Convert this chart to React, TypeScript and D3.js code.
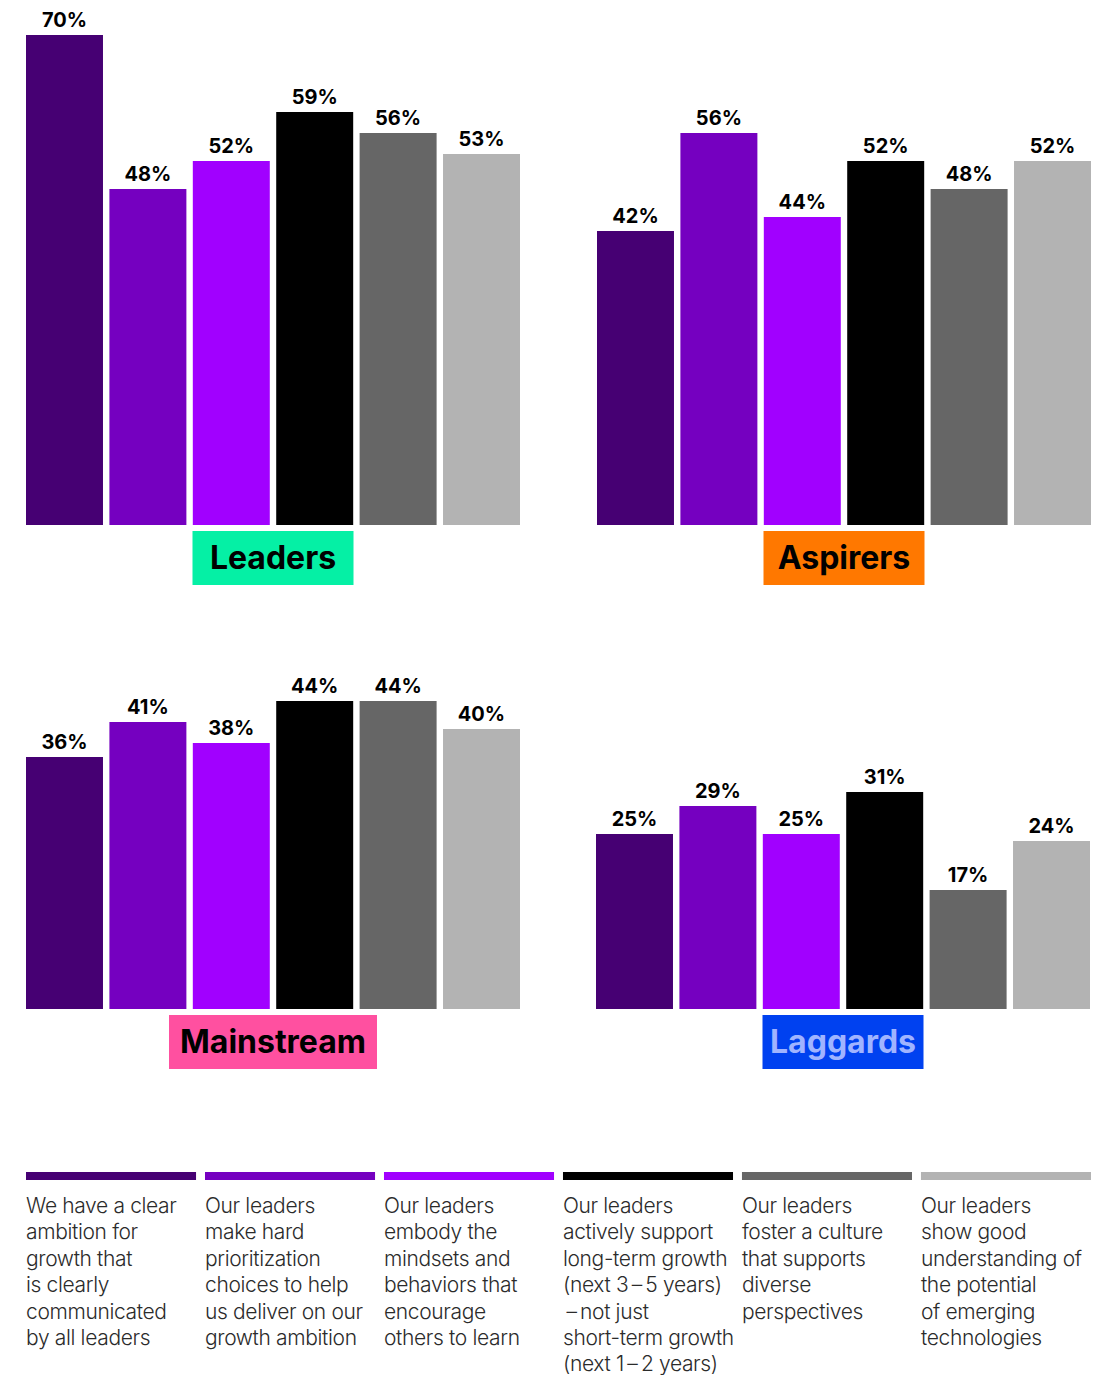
import * as d3 from "d3";
import React from "react";

const groups = ["Leaders", "Aspirers", "Mainstream", "Laggards"];
const leadersValues = [70, 48, 52, 59, 56, 53];
const aspirersValues = [42, 56, 44, 52, 48, 52];
const mainstreamValues = [36, 41, 38, 44, 44, 40];
const laggardsValues = [25, 29, 25, 31, 17, 24];
const seriesKeys = ["s1", "s2", "s3", "s4", "s5", "s6"];
const seriesColors = ["#460073", "#7500c0", "#a100ff", "#000000", "#666666", "#b3b3b3"];
const seriesLabels = [
  ["We have a clear", "ambition for", "growth that", "is clearly", "communicated", "by all leaders"],
  ["Our leaders", "make hard", "prioritization", "choices to help", "us deliver on our", "growth ambition"],
  ["Our leaders", "embody the", "mindsets and", "behaviors that", "encourage", "others to learn"],
  [
    "Our leaders",
    "actively support",
    "long-term growth",
    "(next 3\u2009\u2013\u20095 years)",
    "\u2009\u2013\u2009not just",
    "short-term growth",
    "(next 1\u2009\u2013\u20092 years)",
  ],
  ["Our leaders", "foster a culture", "that supports", "diverse", "perspectives"],
  ["Our leaders", "show good", "understanding of", "the potential", "of emerging", "technologies"],
];
const groupFill = ["#05f0a5", "#ff7800", "#ff50a0", "#0041f0"];
const groupText = ["#000000", "#000000", "#000000", "#a0b4ff"];

const W = 1097;
const H = 1375;
const font = "Inter, Roboto, 'Noto Sans', sans-serif";

const panels = [
  { values: leadersValues, x0: 26, x1: 520, base: 525, boxW: 161 },
  { values: aspirersValues, x0: 597, x1: 1091, base: 525, boxW: 161 },
  { values: mainstreamValues, x0: 26, x1: 520, base: 1009, boxW: 208 },
  { values: laggardsValues, x0: 596, x1: 1090, base: 1009, boxW: 161 },
];

function Panel({ idx }: { idx: number }) {
  const p = panels[idx];
  const x = d3.scaleBand<string>().domain(seriesKeys).range([p.x0, p.x1]).paddingInner(0.077).paddingOuter(0);
  const y = d3.scaleLinear().domain([0, 100]).range([p.base, p.base - 700]);
  const cx = (p.x0 + p.x1) / 2;
  return (
    <g>
      {p.values.map((v, i) => {
        const k = seriesKeys[i];
        const bx = x(k) ?? 0;
        return (
          <g key={k}>
            <rect x={bx} y={y(v)} width={x.bandwidth()} height={y(0) - y(v)} fill={seriesColors[i]} />
            <text
              x={bx + x.bandwidth() / 2}
              y={y(v) - 8}
              textAnchor="middle"
              fontFamily={font}
              fontWeight={700}
              fontSize={20}
              fill="#000"
            >
              {v}%
            </text>
          </g>
        );
      })}
      <rect x={cx - p.boxW / 2} y={p.base + 6} width={p.boxW} height={54} fill={groupFill[idx]} />
      <text
        x={cx}
        y={p.base + 44}
        textAnchor="middle"
        fontFamily={font}
        fontWeight={700}
        fontSize={32}
        fill={groupText[idx]}
      >
        {groups[idx]}
      </text>
    </g>
  );
}

export default function App() {
  const lx = d3.scaleBand<string>().domain(seriesKeys).range([26, 1091]).paddingInner(0.05).paddingOuter(0);
  return (
    <svg
      width={W}
      height={H}
      viewBox={`0 0 ${W} ${H}`}
      style={{ position: "absolute", left: 0, top: 0, background: "#fff" }}
    >
      {groups.map((g, i) => (
        <Panel key={g} idx={i} />
      ))}
      {seriesKeys.map((k, i) => {
        const bx = lx(k) ?? 0;
        return (
          <g key={k}>
            <rect x={bx} y={1172} width={lx.bandwidth()} height={8} fill={seriesColors[i]} />
            <text fontFamily={font} fontWeight={300} fontSize={21} letterSpacing={-0.35} fill="#2b2b2b">
              {seriesLabels[i].map((line, j) => (
                <tspan key={j} x={bx} y={1213 + j * 26.4}>
                  {line}
                </tspan>
              ))}
            </text>
          </g>
        );
      })}
    </svg>
  );
}
